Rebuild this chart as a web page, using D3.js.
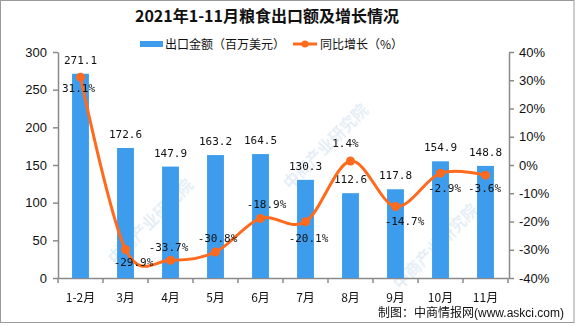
<!DOCTYPE html>
<html><head><meta charset="utf-8">
<script src="https://cdn.jsdelivr.net/npm/d3@7"></script>
<style>body{margin:0;background:#fff}svg{display:block}</style>
</head><body>
<svg id="c" width="575" height="326"></svg>
<script>
const categories = ["1-2月","3月","4月","5月","6月","7月","8月","9月","10月","11月"];
const exportValues = [271.1,172.6,147.9,163.2,164.5,130.3,112.6,117.8,154.9,148.8];
const growthValues = [31.1,-29.9,-33.7,-30.8,-18.9,-20.1,1.4,-14.7,-2.9,-3.6];
const leftTicks = [0,50,100,150,200,250,300];
const rightTicks = [-40,-30,-20,-10,0,10,20,30,40];
const title = "2021年1-11月粮食出口额及增长情况";
const legendBar = "出口金额（百万美元）";
const legendLine = "同比增长（%）";
const footer = "制图：中商情报网";
const footerUrl = "(www.askci.com)";

const svg = d3.select("#c");
const BLUE = "#3d9cec", ORANGE = "#ff6a1c", AX = "#8a8a8a";
const pLeft = 58, pRight = 508, pTop = 52, pBottom = 278;

// border
svg.append("rect").attr("x",0.5).attr("y",0.5).attr("width",573.5).attr("height",322)
  .attr("fill","none").attr("stroke","#9a9a9a");

// watermarks (inside the plot area)
const wm = svg.append("g").attr("fill","#c9dcec").attr("opacity",0.5)
  .style("font-family","'Noto Sans CJK SC'").style("font-size","16px").style("font-weight","bold");
[[115,265],[290,190],[400,290]].forEach(([x,y])=>{
  wm.append("text").attr("transform",`translate(${x},${y}) rotate(-45)`).text("中商产业研究院");
});

const x = d3.scaleBand().domain(categories).range([pLeft,pRight]).padding(0);
const yL = d3.scaleLinear().domain([0,300]).range([pBottom,pTop]);
const yR = d3.scaleLinear().domain([-40,40]).range([pBottom,pTop]);

// title
svg.append("text").attr("x",267).attr("y",22).attr("text-anchor","middle")
  .style("font-family","'Noto Sans CJK SC'").style("font-weight","bold").style("font-size","16px")
  .attr("fill","#111").text(title);

// legend
const lg = svg.append("g").style("font-family","'Noto Sans CJK SC'").style("font-size","12px").attr("fill","#111");
lg.append("rect").attr("x",140).attr("y",41).attr("width",23).attr("height",6).attr("fill",BLUE);
lg.append("text").attr("x",165).attr("y",49).text(legendBar);
lg.append("line").attr("x1",293).attr("x2",317).attr("y1",44).attr("y2",44).attr("stroke",ORANGE).attr("stroke-width",3);
lg.append("circle").attr("cx",305).attr("cy",44).attr("r",3.5).attr("fill",ORANGE);
lg.append("text").attr("x",320).attr("y",49).text(legendLine);

// axes
const axFont = "'Liberation Sans', Arial";
const gL = svg.append("g").attr("transform",`translate(${pLeft},0)`)
  .call(d3.axisLeft(yL).tickValues(leftTicks).tickSize(5).tickPadding(6).tickSizeOuter(0));
const gR = svg.append("g").attr("transform",`translate(${pRight+1},0)`)
  .call(d3.axisRight(yR).tickValues(rightTicks).tickSize(5).tickPadding(5).tickSizeOuter(0)
    .tickFormat(d=>d+"%"));
const gX = svg.append("g").attr("transform",`translate(0,${pBottom})`)
  .call(d3.axisBottom(x).tickSize(0).tickPadding(15));
[gL,gR,gX].forEach(g=>{
  g.selectAll(".domain").attr("stroke",AX).attr("stroke-width",1.5);
  g.selectAll(".tick line").attr("stroke",AX).attr("stroke-width",1.5);
  g.selectAll("text").attr("fill","#111").style("font-family",axFont).style("font-size","13px");
});
gX.selectAll("text").style("font-family","'Noto Sans CJK SC'").style("font-size","12px");
// x category boundary ticks
const bounds = categories.map(c=>x(c)).concat([pRight]);
gX.selectAll(".bt").data(bounds).enter().append("line")
  .attr("x1",d=>d).attr("x2",d=>d).attr("y1",0).attr("y2",5).attr("stroke",AX).attr("stroke-width",1.5);

// bars
const bw = x.bandwidth()*0.375;
svg.append("g").selectAll("rect").data(exportValues).enter().append("rect")
  .attr("x",(d,i)=>x(categories[i])+x.bandwidth()/2-bw/2)
  .attr("y",d=>yL(d)).attr("width",bw).attr("height",d=>pBottom-yL(d)).attr("fill",BLUE);

const lblFont = "'DejaVu Sans Mono','Liberation Mono',monospace";
svg.append("g").selectAll("text").data(exportValues).enter().append("text")
  .attr("x",(d,i)=>x(categories[i])+x.bandwidth()/2)
  .attr("y",d=>yL(d)-10).attr("text-anchor","middle")
  .style("font-family",lblFont).style("font-size","11px").attr("fill","#111")
  .text(d=>d.toFixed(1));

// line
const cx = i => x(categories[i])+x.bandwidth()/2;
const line = d3.line().x((d,i)=>cx(i)).y(d=>yR(d)).curve(d3.curveCardinal.tension(0));
svg.append("path").datum(growthValues).attr("d",line).attr("fill","none")
  .attr("stroke",ORANGE).attr("stroke-width",3);
svg.append("g").selectAll("circle").data(growthValues).enter().append("circle")
  .attr("cx",(d,i)=>cx(i)).attr("cy",d=>yR(d)).attr("r",4.5).attr("fill",ORANGE);

// growth labels (placement offsets relative to each point)
const lblOff = [[-2,15],[8,17],[-2,-9],[2,-10],[6,-10],[3,20],[-5,-14],[9,18],[4,19],[-1,17]];
svg.append("g").selectAll("text").data(growthValues).enter().append("text")
  .attr("x",(d,i)=>cx(i)+lblOff[i][0]).attr("y",(d,i)=>yR(d)+lblOff[i][1])
  .attr("text-anchor","middle").style("font-family",lblFont).style("font-size","11px").attr("fill","#111")
  .text(d=>d.toFixed(1)+"%");

// footer
const ft = svg.append("text").attr("x",378).attr("y",317).attr("fill","#111")
  .style("font-family","'Noto Sans CJK SC'").style("font-size","12px");
ft.append("tspan").text(footer);
ft.append("tspan").style("font-family","'Liberation Sans',Arial").style("font-size","12px").text(footerUrl);
</script>
</body></html>
